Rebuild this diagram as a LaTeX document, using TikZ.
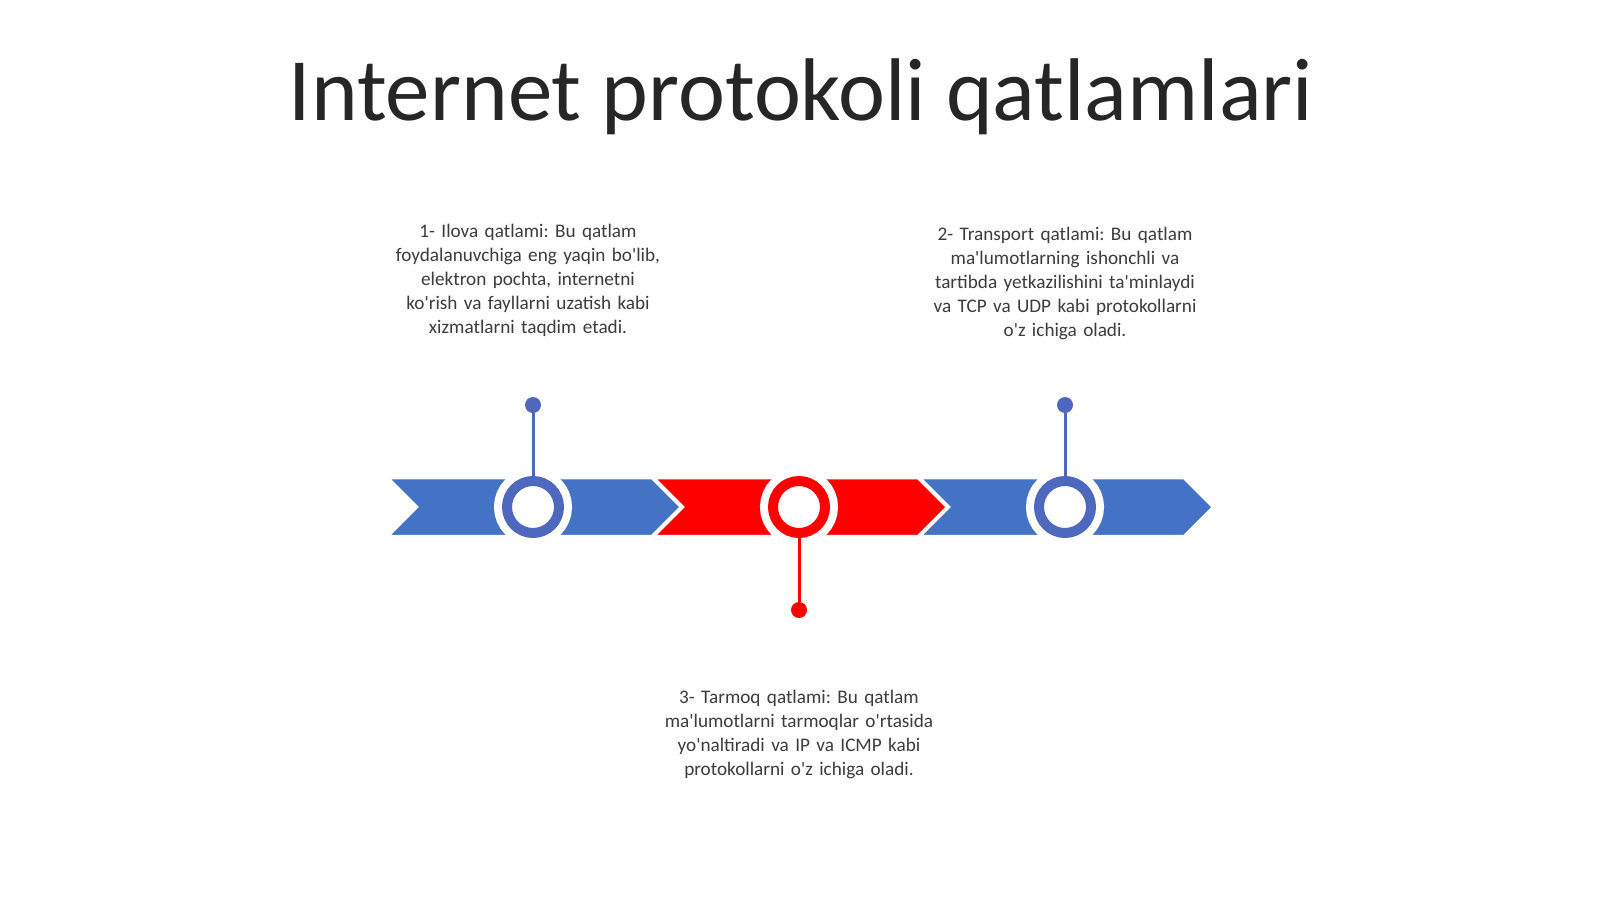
\documentclass[tikz,border=0pt]{standalone}
\usepackage{fontspec}
\setmainfont{Carlito}[Ligatures=TeXOff]
\usepackage{xcolor}
\usetikzlibrary{positioning}

\definecolor{layerblue}{RGB}{68,114,196}
\definecolor{ringblue}{RGB}{78,104,190}
\definecolor{layerred}{RGB}{255,0,0}
\definecolor{textgray}{RGB}{60,60,60}
\definecolor{titlegray}{RGB}{38,38,38}

\tikzset{
  chevron/.style={fill=#1, draw=white, line width=2.5pt, line join=miter},
  ring/.style={circle, minimum size=52pt, inner sep=0pt, line width=10pt, draw=#1, fill=white,
    preaction={draw=white, line width=26pt}},
  pin/.style={circle, minimum size=16pt, inner sep=0pt, fill=#1},
  stem/.style={draw=#1, line width=3pt},
  layertext/.style={text width=330pt, align=center, inner sep=0pt, anchor=north,
    font=\fontsize{19.2}{24}\selectfont, text=textgray},
}

\begin{document}
\frenchspacing
\begin{tikzpicture}[x=1pt, y=-1pt]
  \useasboundingbox[fill=white] (0,0) rectangle (1600,899);

  % title
  \node[anchor=base, inner sep=0pt, text=titlegray, font=\fontsize{89}{100}\selectfont] (title) at (801,120) {Internet protokoli qatlamlari};

  % chevrons
  \draw[chevron=layerblue] (388,478) -- (652,478) -- (681,507) -- (652,536) -- (388,536) -- (417,507) -- cycle;
  \draw[chevron=layerred] (654,478) -- (918,478) -- (947,507) -- (918,536) -- (654,536) -- (683,507) -- cycle;
  \draw[chevron=layerblue] (920,478) -- (1184,478) -- (1213,507) -- (1184,536) -- (920,536) -- (949,507) -- cycle;

  % rings and pins
  \node[ring=ringblue] (ring1) at (533,507) {};
  \node[ring=layerred] (ring2) at (799,507) {};
  \node[ring=ringblue] (ring3) at (1065,507) {};

  \node[pin=ringblue] (pin1) at (533,405) {};
  \node[pin=layerred] (pin2) at (799,610) {};
  \node[pin=ringblue] (pin3) at (1065,405) {};

  \draw[stem=ringblue] (ring1.north) -- (pin1);
  \draw[stem=layerred] (ring2.south) -- (pin2);
  \draw[stem=ringblue] (ring3.north) -- (pin3);

  % layer texts
  \node[layertext] (app) at (528,224) {1- Ilova qatlami: Bu qatlam\\foydalanuvchiga eng yaqin bo'lib,\\elektron pochta, internetni\\ko'rish va fayllarni uzatish kabi\\xizmatlarni taqdim etadi.};
  \node[layertext] (transport) at (1065,227) {2- Transport qatlami: Bu qatlam\\ma'lumotlarning ishonchli va\\tartibda yetkazilishini ta'minlaydi\\va TCP va UDP kabi protokollarni\\o'z ichiga oladi.};
  \node[layertext] (network) at (799,690) {3- Tarmoq qatlami: Bu qatlam\\ma'lumotlarni tarmoqlar o'rtasida\\yo'naltiradi va IP va ICMP kabi\\protokollarni o'z ichiga oladi.};
\end{tikzpicture}
\end{document}
